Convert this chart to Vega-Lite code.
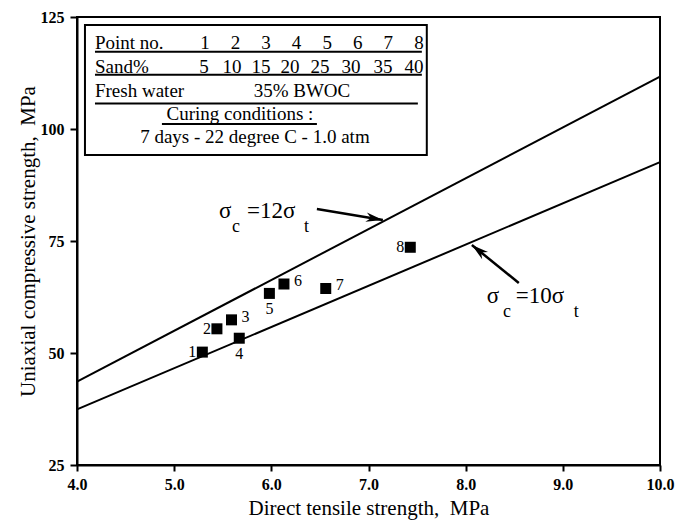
{
  "$schema": "https://vega.github.io/schema/vega-lite/v6.json",
  "width": 583,
  "height": 448,
  "autosize": {"type": "none"},
  "padding": {"left": 77, "top": 17, "right": 17, "bottom": 55},
  "background": "white",
  "config": {
    "font": "Liberation Serif",
    "view": {"stroke": "black", "strokeWidth": 2},
    "axis": {
      "domainColor": "black", "domainWidth": 2, "tickColor": "black", "tickWidth": 2,
      "labelColor": "black", "titleColor": "black", "labelFont": "Liberation Serif",
      "titleFont": "Liberation Serif", "grid": false, "labelOverlap": false,
      "labelFlush": false, "labelBound": false
    },
    "text": {"font": "Liberation Serif", "color": "black"}
  },
  "datasets": {
    "points": [
      {"no": "1", "sand": 5, "tension": 5.29, "compression": 50.2},
      {"no": "2", "sand": 10, "tension": 5.44, "compression": 55.4},
      {"no": "3", "sand": 15, "tension": 5.59, "compression": 57.4},
      {"no": "4", "sand": 20, "tension": 5.67, "compression": 53.3},
      {"no": "5", "sand": 25, "tension": 5.98, "compression": 63.3},
      {"no": "6", "sand": 30, "tension": 6.13, "compression": 65.4},
      {"no": "7", "sand": 35, "tension": 6.56, "compression": 64.4},
      {"no": "8", "sand": 40, "tension": 7.43, "compression": 73.6}
    ],
    "lines": [
      {"ratio": "12", "tension": 4, "compression": 43.6},
      {"ratio": "12", "tension": 10, "compression": 111.7},
      {"ratio": "10", "tension": 4, "compression": 37.4},
      {"ratio": "10", "tension": 10, "compression": 92.6}
    ],
    "minorX": [{"tension": 4.5}, {"tension": 5.5}, {"tension": 6.5}, {"tension": 7.5}, {"tension": 8.5}, {"tension": 9.5}],
    "minorY": [{"compression": 37.5}, {"compression": 62.5}, {"compression": 87.5}, {"compression": 112.5}],
    "box": [{"tension": 4.082, "tension2": 7.6, "compression": 94.2, "compression2": 123.2}],
    "underlines": [
      {"tension": 4.185, "tension2": 7.549, "compression": 117.25},
      {"tension": 4.185, "tension2": 7.549, "compression": 112.1},
      {"tension": 4.185, "tension2": 7.508, "compression": 105.7},
      {"tension": 4.874, "tension2": 6.469, "compression": 101.1}
    ],
    "tableLeft": [
      {"tension": 4.185, "compression": 117.79, "label": "Point no."},
      {"tension": 4.185, "compression": 112.5, "label": "Sand%"},
      {"tension": 4.185, "compression": 107.2, "label": "Fresh water"}
    ],
    "tableCenter": [
      {"tension": 5.317, "compression": 117.79, "label": "1"},
      {"tension": 5.632, "compression": 117.79, "label": "2"},
      {"tension": 5.945, "compression": 117.79, "label": "3"},
      {"tension": 6.26, "compression": 117.79, "label": "4"},
      {"tension": 6.575, "compression": 117.79, "label": "5"},
      {"tension": 6.89, "compression": 117.79, "label": "6"},
      {"tension": 7.204, "compression": 117.79, "label": "7"},
      {"tension": 7.519, "compression": 117.79, "label": "8"},
      {"tension": 5.307, "compression": 112.5, "label": "5"},
      {"tension": 5.595, "compression": 112.5, "label": "10"},
      {"tension": 5.893, "compression": 112.5, "label": "15"},
      {"tension": 6.191, "compression": 112.5, "label": "20"},
      {"tension": 6.5, "compression": 112.5, "label": "25"},
      {"tension": 6.819, "compression": 112.5, "label": "30"},
      {"tension": 7.148, "compression": 112.5, "label": "35"},
      {"tension": 7.467, "compression": 112.5, "label": "40"},
      {"tension": 6.315, "compression": 107.2, "label": "35% BWOC"},
      {"tension": 5.677, "compression": 101.9, "label": "Curing conditions :"},
      {"tension": 5.831, "compression": 96.8, "label": "7 days - 22 degree C - 1.0 atm"}
    ],
    "annMain": [
      {"tension": 5.461, "compression": 80.07, "label": "σ"},
      {"tension": 5.749, "compression": 80.07, "label": "=12σ"},
      {"tension": 8.218, "compression": 61.09, "label": "σ"},
      {"tension": 8.516, "compression": 61.09, "label": "=10σ"}
    ],
    "annSub": [
      {"tension": 5.595, "compression": 77.07, "label": "c"},
      {"tension": 6.335, "compression": 77.07, "label": "t"},
      {"tension": 8.383, "compression": 58.1, "label": "c"},
      {"tension": 9.113, "compression": 58.1, "label": "t"}
    ],
    "arrows": [
      {"arrow": "a1", "tension": 6.469, "compression": 82.14, "tension2": 7.148, "compression2": 79.69},
      {"arrow": "a2", "tension": 8.547, "compression": 65.63, "tension2": 8.064, "compression2": 74.11}
    ]
  },
  "encoding": {
    "x": {"field": "tension", "type": "quantitative",
      "scale": {"domain": [4, 10], "nice": false, "zero": false},
      "axis": {"values": [4, 5, 6, 7, 8, 9, 10], "format": ".1f",
        "title": "Direct tensile strength,\u00a0 MPa", "tickSize": 6, "labelPadding": 5,
        "labelFontSize": 16, "labelFontWeight": "bold", "titleFontSize": 21,
        "titleFontWeight": "normal", "titlePadding": 5}},
    "y": {"field": "compression", "type": "quantitative",
      "scale": {"domain": [25, 125], "nice": false, "zero": false},
      "axis": {"values": [25, 50, 75, 100, 125], "format": "d",
        "title": "Uniaxial compressive strength,\u00a0 MPa", "tickSize": 7, "labelPadding": 6,
        "labelFontSize": 16, "labelFontWeight": "bold", "titleFontSize": 21,
        "titleFontWeight": "normal", "titlePadding": 2}}
  },
  "layer": [
    {
      "data": {"name": "lines"},
      "mark": {"type": "line", "color": "black", "strokeWidth": 2},
      "encoding": {"detail": {"field": "ratio"}}
    },
    {
      "data": {"name": "minorX"},
      "mark": {"type": "rule", "color": "black", "strokeWidth": 2, "clip": false},
      "encoding": {
        "y": {"datum": 25, "type": "quantitative"},
        "y2": {"datum": 24.1}
      }
    },
    {
      "data": {"name": "minorY"},
      "mark": {"type": "rule", "color": "black", "strokeWidth": 2, "clip": false},
      "encoding": {
        "x": {"datum": 4, "type": "quantitative"},
        "x2": {"datum": 3.95}
      }
    },
    {
      "data": {"name": "box"},
      "mark": {"type": "rect", "fill": "white", "stroke": "black", "strokeWidth": 2},
      "encoding": {"x2": {"field": "tension2"}, "y2": {"field": "compression2"}}
    },
    {
      "data": {"name": "underlines"},
      "mark": {"type": "rule", "color": "black", "strokeWidth": 2},
      "encoding": {"x2": {"field": "tension2"}}
    },
    {
      "data": {"name": "tableLeft"},
      "mark": {"type": "text", "align": "left", "baseline": "alphabetic", "fontSize": 19},
      "encoding": {"text": {"field": "label"}}
    },
    {
      "data": {"name": "tableCenter"},
      "mark": {"type": "text", "align": "center", "baseline": "alphabetic", "fontSize": 19},
      "encoding": {"text": {"field": "label"}}
    },
    {
      "data": {"name": "points"},
      "mark": {"type": "point", "shape": "square", "filled": true, "color": "black", "size": 121, "opacity": 1}
    },
    {
      "data": {"name": "points"},
      "transform": [{"filter": "datum.no == '1' || datum.no == '2' || datum.no == '8'"}],
      "mark": {"type": "text", "align": "right", "baseline": "middle", "dx": -6, "fontSize": 16},
      "encoding": {"text": {"field": "no"}}
    },
    {
      "data": {"name": "points"},
      "transform": [{"filter": "datum.no == '3' || datum.no == '6' || datum.no == '7'"}],
      "mark": {"type": "text", "align": "left", "baseline": "middle", "dx": 10, "dy": -3, "fontSize": 16},
      "encoding": {"text": {"field": "no"}}
    },
    {
      "data": {"name": "points"},
      "transform": [{"filter": "datum.no == '4' || datum.no == '5'"}],
      "mark": {"type": "text", "align": "center", "baseline": "middle", "dy": 16, "fontSize": 16},
      "encoding": {"text": {"field": "no"}}
    },
    {
      "data": {"name": "annMain"},
      "mark": {"type": "text", "align": "left", "baseline": "alphabetic", "fontSize": 23},
      "encoding": {"text": {"field": "label"}}
    },
    {
      "data": {"name": "annSub"},
      "mark": {"type": "text", "align": "left", "baseline": "alphabetic", "fontSize": 18},
      "encoding": {"text": {"field": "label"}}
    },
    {
      "data": {"name": "arrows"},
      "mark": {"type": "rule", "color": "black", "strokeWidth": 2.5},
      "encoding": {"x2": {"field": "tension2"}, "y2": {"field": "compression2"}}
    },
    {
      "data": {"name": "arrows"},
      "transform": [{"filter": "datum.arrow == 'a1'"}],
      "mark": {"type": "point", "shape": "M0,0L0.55,2L0,1.4L-0.55,2Z", "filled": true, "color": "black", "opacity": 1, "size": 289, "angle": 99.5},
      "encoding": {
        "x": {"field": "tension2", "type": "quantitative"},
        "y": {"field": "compression2", "type": "quantitative"}
      }
    },
    {
      "data": {"name": "arrows"},
      "transform": [{"filter": "datum.arrow == 'a2'"}],
      "mark": {"type": "point", "shape": "M0,0L0.55,2L0,1.4L-0.55,2Z", "filled": true, "color": "black", "opacity": 1, "size": 289, "angle": 309},
      "encoding": {
        "x": {"field": "tension2", "type": "quantitative"},
        "y": {"field": "compression2", "type": "quantitative"}
      }
    }
  ]
}
